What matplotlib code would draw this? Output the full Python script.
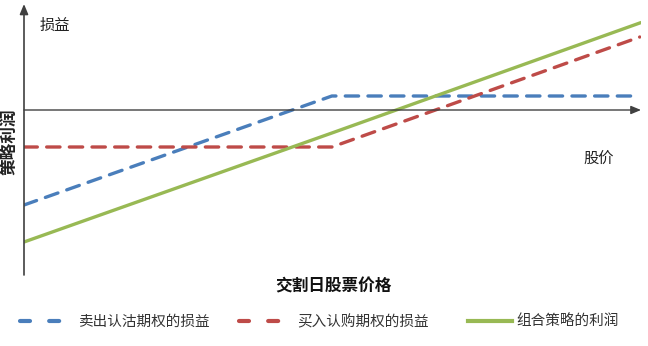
import matplotlib
matplotlib.use("Agg")
import matplotlib.pyplot as plt
from matplotlib.lines import Line2D

plt.rcParams['font.family'] = ['Noto Sans CJK SC', 'DejaVu Sans']

# Data (stock price at expiry, arbitrary units)
price = [0, 5, 10]
short_put = [-9.5, 1.4, 1.4]      # 卖出认沽期权的损益
long_call = [-3.7, -3.7, 7.3]     # 买入认购期权的损益
combo = [-13.2, -2.3, 8.7]        # 组合策略的利润

labels = ['卖出认沽期权的损益', '买入认购期权的损益', '组合策略的利润']
colors = ['#4a7ebb', '#be4b48', '#98b954']

W, H = 648, 346
fig = plt.figure(figsize=(W / 100, H / 100), dpi=100)
ax = fig.add_axes([24 / W, 1 - 275 / H, (641 - 24) / W, (275 - 4) / H])
ax.set_xlim(0, 10.02)
ax.set_ylim(-16.5, 10.6)
for s in ax.spines.values():
    s.set_visible(False)
ax.set_xticks([])
ax.set_yticks([])

# axes with arrows
ax.annotate('', xy=(0, 10.6), xytext=(0, -16.5),
            arrowprops=dict(arrowstyle='-|>,head_length=0.6,head_width=0.25',
                            color='#404040', lw=1.2, shrinkA=0, shrinkB=0))
ax.annotate('', xy=(10.02, 0), xytext=(0, 0),
            arrowprops=dict(arrowstyle='-|>,head_length=0.6,head_width=0.25',
                            color='#404040', lw=1.0, shrinkA=0, shrinkB=0))

lw = 2.4
ax.plot(price, short_put, color=colors[0], lw=lw, dashes=(4.0, 2.8),
        dash_capstyle='round')
ax.plot(price, long_call, color=colors[1], lw=lw, dashes=(4.0, 2.8),
        dash_capstyle='round')
ax.plot(price, combo, color=colors[2], lw=lw)

fig.text(40 / W, 1 - 25 / H, '损益', fontsize=11, va='center', ha='left', color='#222222')
fig.text(583 / W, 1 - 158 / H, '股价', fontsize=11, va='center', ha='left', color='#222222')
fig.text(10 / W, 1 - 142 / H, '策略利润', fontsize=12, fontweight='bold', rotation=90,
         va='center', ha='center', color='#222222')
fig.text(333 / W, 1 - 286 / H, '交割日股票价格', fontsize=12, fontweight='bold',
         va='center', ha='center', color='#111111')

# legend proxies (two long dashes as in the reference legend)
h1 = Line2D([], [], color=colors[0], lw=3, dashes=(2.4, 4.6), dash_capstyle='round')
h2 = Line2D([], [], color=colors[1], lw=3, dashes=(2.4, 4.6), dash_capstyle='round')
h3 = Line2D([], [], color=colors[2], lw=3)

leg1 = fig.legend([h1, h2], labels[:2], loc='center left', ncol=2,
                  bbox_to_anchor=(7 / W, 1 - 322 / H), frameon=False,
                  fontsize=10.5, handlelength=3.0, handletextpad=1.0,
                  columnspacing=2.0, labelcolor='#333333')
leg2 = fig.legend([h3], labels[2:], loc='center left',
                  bbox_to_anchor=(455 / W, 1 - 322 / H), frameon=False,
                  fontsize=10.5, handlelength=3.0, handletextpad=0.3,
                  labelcolor='#333333')

fig.savefig('out.png', dpi=100)
